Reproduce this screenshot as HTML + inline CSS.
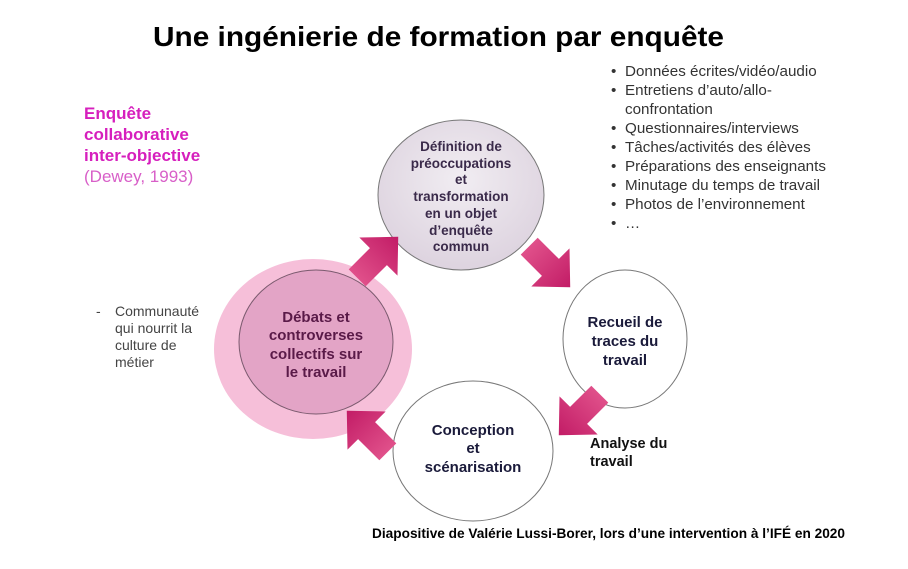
<!DOCTYPE html>
<html><head><meta charset="utf-8"><style>
html,body{margin:0;padding:0;background:#fff;}
body{width:908px;height:564px;overflow:hidden;}
svg text{font-family:"Liberation Sans",sans-serif;}
</style></head><body>
<svg width="908" height="564" viewBox="0 0 908 564" xmlns="http://www.w3.org/2000/svg">
<defs>
<linearGradient id="ag" x1="0" y1="0" x2="1" y2="0">
<stop offset="0" stop-color="#e0508a"/><stop offset="1" stop-color="#c21c66"/>
</linearGradient>
<radialGradient id="tg" cx="0.5" cy="0.4" r="0.6">
<stop offset="0" stop-color="#f1edf2"/><stop offset="1" stop-color="#ddd3df"/>
</radialGradient>
</defs>
<text x="153" y="46" font-size="28" font-weight="bold" fill="#000" textLength="571" lengthAdjust="spacingAndGlyphs">Une ingénierie de formation par enquête</text>

<text x="84" y="119" font-size="17" font-weight="bold" fill="#d61fbd">Enquête</text>
<text x="84" y="140" font-size="17" font-weight="bold" fill="#d61fbd">collaborative</text>
<text x="84" y="161" font-size="17" font-weight="bold" fill="#d61fbd">inter-objective</text>
<text x="84" y="182" font-size="17" fill="#d85fc8">(Dewey, 1993)</text>

<text x="96" y="316" font-size="14" fill="#444">-</text>
<text x="115" y="316" font-size="14" fill="#444">Communauté</text>
<text x="115" y="333" font-size="14" fill="#444">qui nourrit la</text>
<text x="115" y="350" font-size="14" fill="#444">culture de</text>
<text x="115" y="367" font-size="14" fill="#444">métier</text>

<g font-size="15.2" fill="#333">
<text x="611" y="76">•</text><text x="625" y="76">Données écrites/vidéo/audio</text>
<text x="611" y="95">•</text><text x="625" y="95">Entretiens d’auto/allo-</text>
<text x="625" y="114">confrontation</text>
<text x="611" y="133">•</text><text x="625" y="133">Questionnaires/interviews</text>
<text x="611" y="152">•</text><text x="625" y="152">Tâches/activités des élèves</text>
<text x="611" y="171">•</text><text x="625" y="171">Préparations des enseignants</text>
<text x="611" y="190">•</text><text x="625" y="190">Minutage du temps de travail</text>
<text x="611" y="209">•</text><text x="625" y="209">Photos de l’environnement</text>
<text x="611" y="228">•</text><text x="625" y="228">…</text>
</g>

<ellipse cx="313" cy="349" rx="99" ry="90" fill="#f6bfd9"/>
<ellipse cx="316" cy="342" rx="77" ry="72" fill="#e3a4c6" stroke="#7a5a6e" stroke-width="1"/>
<ellipse cx="461" cy="195" rx="83" ry="75" fill="url(#tg)" stroke="#777" stroke-width="1"/>
<ellipse cx="625" cy="339" rx="62" ry="69" fill="#fff" stroke="#777" stroke-width="1"/>
<ellipse cx="473" cy="451" rx="80" ry="70" fill="#fff" stroke="#777" stroke-width="1"/>

<g fill="url(#ag)">
<polygon points="-28,-12 2,-12 2,-27 30,0 2,27 2,12 -28,12" transform="translate(377,258) rotate(-45)"/>
<polygon points="-28,-12 2,-12 2,-27 30,0 2,27 2,12 -28,12" transform="translate(549,266) rotate(45)"/>
<polygon points="-28,-12 2,-12 2,-27 30,0 2,27 2,12 -28,12" transform="translate(580,414) rotate(135)"/>
<polygon points="-28,-12 2,-12 2,-27 30,0 2,27 2,12 -28,12" transform="translate(368,432) rotate(-135)"/>
</g>

<g font-weight="bold" text-anchor="middle">
<g font-size="13.5" fill="#3a2a4a">
<text x="461" y="151">Définition de</text>
<text x="461" y="168">préoccupations</text>
<text x="461" y="184">et</text>
<text x="461" y="201">transformation</text>
<text x="461" y="218">en un objet</text>
<text x="461" y="235">d’enquête</text>
<text x="461" y="251">commun</text>
</g>
<g font-size="15" fill="#5a1a48">
<text x="316" y="322">Débats et</text>
<text x="316" y="340">controverses</text>
<text x="316" y="359">collectifs sur</text>
<text x="316" y="377">le travail</text>
</g>
<g font-size="15" fill="#1a1a3a">
<text x="625" y="327">Recueil de</text>
<text x="625" y="346">traces du</text>
<text x="625" y="365">travail</text>
<text x="473" y="435">Conception</text>
<text x="473" y="453">et</text>
<text x="473" y="472">scénarisation</text>
</g>
</g>
<text x="590" y="448" font-size="14.5" font-weight="bold" fill="#111">Analyse du</text>
<text x="590" y="466" font-size="14.5" font-weight="bold" fill="#111">travail</text>

<text x="372" y="538" font-size="13.5" font-weight="bold" fill="#000" textLength="473" lengthAdjust="spacingAndGlyphs">Diapositive de Valérie Lussi-Borer, lors d’une intervention à l’IFÉ en 2020</text>
</svg>
</body></html>
